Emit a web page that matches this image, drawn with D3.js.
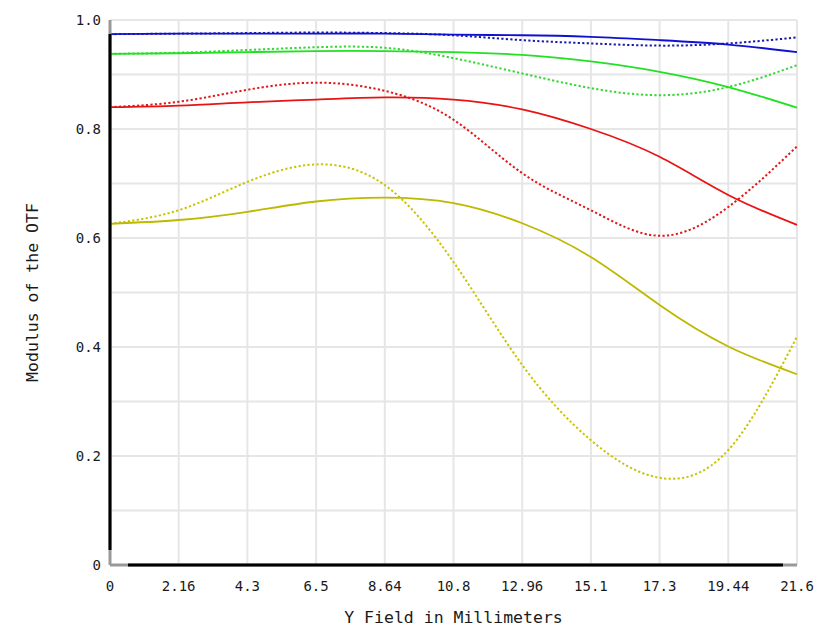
<!DOCTYPE html>
<html lang="en">
<head>
    <meta charset="UTF-8">
    <title>MTF vs Field</title>
    <style>
        body{ margin:0; background:#fff; }
        svg{ display:block; }
        .grid line{ stroke:#e6e6e6; stroke-width:2px; }
        .tickText{ font-family:"DejaVu Sans Mono", monospace; font-size:14px; fill:#1a1a1a; }
        .label{ font-family:"DejaVu Sans Mono", monospace; font-size:16.5px; fill:#1a1a1a; }
        .curve{ fill:none; stroke-width:1.8px; }
        .dotted{ stroke-dasharray:2.2 2.3; stroke-width:2px; }
    </style>
    <script src="https://cdn.jsdelivr.net/npm/d3@7"></script>
</head>
<body>
<script>
    // field positions (mm) and tick labels
    const fields = [0, 2.16, 4.32, 6.48, 8.64, 10.8, 12.96, 15.12, 17.28, 19.44, 21.6];
    const xTickLabels = ["0","2.16","4.3","6.5","8.64","10.8","12.96","15.1","17.3","19.44","21.6"];
    const yTicks = [0, 0.2, 0.4, 0.6, 0.8, 1.0];
    const yTickLabels = ["0","0.2","0.4","0.6","0.8","1.0"];

    // modulus values, solid = tangential, dotted = sagittal
    const blueSolid   = [0.974, 0.975, 0.975, 0.975, 0.975, 0.973, 0.972, 0.969, 0.963, 0.955, 0.941];
    const blueDotted  = [0.974, 0.975, 0.976, 0.977, 0.976, 0.972, 0.963, 0.957, 0.953, 0.957, 0.968];
    const greenSolid  = [0.938, 0.939, 0.941, 0.943, 0.943, 0.941, 0.936, 0.924, 0.905, 0.877, 0.839];
    const greenDotted = [0.938, 0.940, 0.945, 0.950, 0.949, 0.930, 0.902, 0.875, 0.862, 0.877, 0.917];
    const redSolid    = [0.840, 0.843, 0.849, 0.854, 0.858, 0.854, 0.836, 0.800, 0.749, 0.679, 0.624];
    const redDotted   = [0.840, 0.850, 0.872, 0.885, 0.870, 0.817, 0.719, 0.651, 0.604, 0.657, 0.768];
    const yellowSolid = [0.626, 0.633, 0.648, 0.667, 0.674, 0.664, 0.627, 0.565, 0.477, 0.401, 0.350];
    const yellowDotted= [0.626, 0.651, 0.703, 0.735, 0.697, 0.556, 0.367, 0.229, 0.160, 0.211, 0.419];

    const series = [
        {vals: yellowDotted, color:"#c8c400", dotted:true},
        {vals: yellowSolid,  color:"#bdb800", dotted:false},
        {vals: redDotted,    color:"#e01818", dotted:true},
        {vals: redSolid,     color:"#e81414", dotted:false},
        {vals: greenDotted,  color:"#33d633", dotted:true},
        {vals: greenSolid,   color:"#22e022", dotted:false},
        {vals: blueDotted,   color:"#1a1aa8", dotted:true},
        {vals: blueSolid,    color:"#1010d0", dotted:false}
    ];

    const width = 826, height = 635;
    const margins = {top:20, bottom:70, left:110, right:29};

    const svg = d3.select("body").append("svg")
        .attr("width", width).attr("height", height);

    const xScale = d3.scaleLinear()
        .domain([0, 21.6])
        .range([margins.left, width - margins.right]);
    const yScale = d3.scaleLinear()
        .domain([0, 1])
        .range([height - margins.bottom, margins.top]);

    // grid
    const grid = svg.append("g").attr("class","grid");
    grid.selectAll(".gx").data(fields).enter().append("line")
        .attr("x1", d=>xScale(d)).attr("x2", d=>xScale(d))
        .attr("y1", yScale(1)).attr("y2", yScale(0));
    grid.selectAll(".gy").data(d3.range(0, 11).map(i=>i/10)).enter().append("line")
        .attr("x1", xScale(0)).attr("x2", xScale(21.6))
        .attr("y1", d=>yScale(d)).attr("y2", d=>yScale(d));

    // curves
    const lineGen = d3.line()
        .x((d,i)=>xScale(fields[i]))
        .y(d=>yScale(d))
        .curve(d3.curveNatural);

    svg.append("g").selectAll("path")
        .data(series)
        .enter()
        .append("path")
        .attr("class", d=>"curve" + (d.dotted ? " dotted" : ""))
        .attr("stroke", d=>d.color)
        .attr("d", d=>lineGen(d.vals));

    // axes: gray full line, black inner part
    const x0 = xScale(0), x1 = xScale(21.6), y0 = yScale(0), y1 = yScale(1);
    svg.append("line").attr("x1",x0).attr("x2",x1).attr("y1",y0).attr("y2",y0)
        .attr("stroke","#999").attr("stroke-width",3);
    svg.append("line").attr("x1",x0+18).attr("x2",x1-14).attr("y1",y0).attr("y2",y0)
        .attr("stroke","#000").attr("stroke-width",3);
    svg.append("line").attr("x1",x0).attr("x2",x0).attr("y1",y1).attr("y2",y0)
        .attr("stroke","#999").attr("stroke-width",3);
    svg.append("line").attr("x1",x0).attr("x2",x0).attr("y1",y1+14).attr("y2",y0-15)
        .attr("stroke","#000").attr("stroke-width",3);

    // tick labels
    svg.append("g").selectAll("text")
        .data(fields)
        .enter().append("text")
        .attr("class","tickText")
        .attr("x", d=>xScale(d))
        .attr("y", y0 + 26)
        .attr("text-anchor","middle")
        .text((d,i)=>xTickLabels[i]);

    svg.append("g").selectAll("text")
        .data(yTicks)
        .enter().append("text")
        .attr("class","tickText")
        .attr("x", x0 - 9)
        .attr("y", d=>yScale(d) + 5)
        .attr("text-anchor","end")
        .text((d,i)=>yTickLabels[i]);

    // axis labels
    svg.append("text")
        .attr("class","label")
        .attr("transform", `translate(${(x0+x1)/2}, ${height-12})`)
        .style("text-anchor","middle")
        .text("Y Field in Millimeters");

    svg.append("text")
        .attr("class","label")
        .attr("transform", `translate(38, ${(y0+y1)/2 + 0}) rotate(-90)`)
        .style("text-anchor","middle")
        .text("Modulus of the OTF");
</script>
</body>
</html>
